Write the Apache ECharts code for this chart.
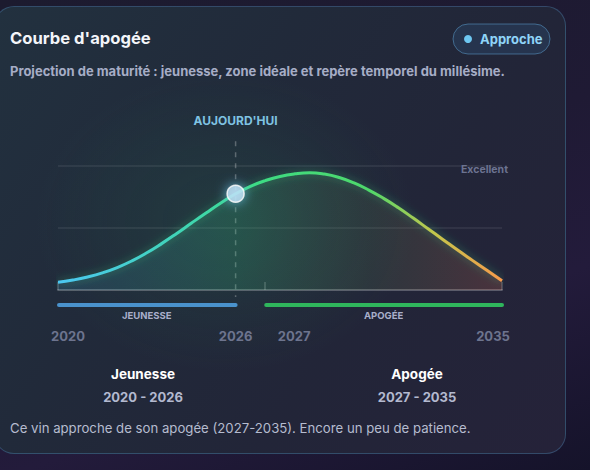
<!DOCTYPE html>
<html>
<head>
<meta charset="utf-8">
<script src="https://cdn.jsdelivr.net/npm/echarts@6/dist/echarts.min.js"></script>
<style>
  html, body { margin:0; padding:0; width:590px; height:470px; overflow:hidden;
    background: linear-gradient(160deg, #1c1b2f 0%, #1f1a34 45%, #231b3b 70%, #15132a 100%); }
  #card { position:absolute; left:-6px; top:6px; width:572px; height:448px; box-sizing:border-box;
    border-radius:20px; border:1px solid rgba(80,135,185,0.38);
    background:
      radial-gradient(ellipse 190px 150px at 230px 215px, rgba(40,150,95,0.16), rgba(40,150,95,0) 100%),
      linear-gradient(125deg, #22313f 0%, #212a3a 35%, #222538 65%, #252239 100%); }
  #chart { position:absolute; left:0; top:0; width:590px; height:470px; }
</style>
</head>
<body>
<div id="card"></div>
<div id="chart"></div>
<script>
// ---- data (every half year) ----
const years = [2020, 2020.5, 2021, 2021.5, 2022, 2022.5, 2023, 2023.5, 2024, 2024.5,
               2025, 2025.5, 2026, 2026.5, 2027, 2027.5, 2028, 2028.5, 2029, 2029.5,
               2030, 2030.5, 2031, 2031.5, 2032, 2032.5, 2033, 2033.5, 2034, 2034.5, 2035];
const quality = [6.2, 8.0, 10.5, 13.8, 18.1, 23.5, 30.0, 37.4, 45.4, 53.8,
                 62.1, 70.2, 77.6, 83.6, 88.2, 91.6, 93.7, 94.6, 93.5, 90.7,
                 86.3, 80.6, 73.9, 66.3, 58.0, 49.4, 40.8, 32.2, 23.9, 15.7, 7.5];
const todayYear = 2026;
const phaseNames = ['Jeunesse', 'Apogée'];
const phaseStart = [2020, 2027];
const phaseEnd = [2026, 2035];
const phaseColors = ['#4a92cc', '#2fb65c'];
const yearTicks = [2020, 2026, 2027, 2035];
const axisTickYears = [2020, 2027, 2035];
const scaleLabel = 'Excellent';
const titleText = "Courbe d'apogée";
const subtitleText = 'Projection de maturité : jeunesse, zone idéale et repère temporel du millésime.';
const badgeText = 'Approche';
const markerText = "AUJOURD'HUI";
const footerText = 'Ce vin approche de son apogée (2027-2035). Encore un peu de patience.';

const FONT = 'Inter, "Noto Sans", sans-serif';
const chart = echarts.init(document.getElementById('chart'), null, { renderer: 'svg' });

const lineData = years.map((y, i) => [y, quality[i]]);
const phaseData = phaseStart.map((s, i) => [s, phaseEnd[i], 0]);
const todayIdx = years.indexOf(todayYear);

const richYear = {
  a: { padding: [0, 0, 0, 20] },
  b: { padding: [0, 0, 0, 58] },
  c: { padding: [0, 18, 0, 0] },
  d: {}
};
function txt(x, y, text, font, fill, align) {
  return { type: 'text', x: x, y: y, style: { text: text, font: font, fill: fill,
    align: align || 'left', textAlign: align || 'left', verticalAlign: 'middle', textVerticalAlign: 'middle' } };
}

const option = {
  animation: false,
  grid: { left: 58, right: 88, top: 166, bottom: 180 },
  xAxis: {
    type: 'value', min: 2020, max: 2035,
    splitLine: { show: false },
    axisLine: { lineStyle: { color: 'rgba(255,255,255,0.2)', width: 2 } },
    axisTick: { customValues: axisTickYears, inside: true, length: 8, lineStyle: { color: 'rgba(255,255,255,0.22)', width: 1.5 } },
    axisLabel: {
      customValues: yearTicks, margin: 39,
      fontFamily: FONT, fontWeight: 'bold', fontSize: 13, color: '#6d748e',
      formatter: function (v) {
        const k = v === 2020 ? 'a' : v === 2027 ? 'b' : v === 2035 ? 'c' : 'd';
        return '{' + k + '|' + v + '}';
      },
      rich: richYear
    }
  },
  yAxis: {
    type: 'value', min: 0, max: 100, interval: 50, position: 'right',
    axisLine: { show: false }, axisTick: { show: false },
    splitLine: { lineStyle: { color: 'rgba(255,255,255,0.09)', width: 1.5 } },
    axisLabel: {
      customValues: [100], inside: true, margin: -6,
      formatter: function () { return '{e|' + scaleLabel + '}'; },
      rich: { e: { fontFamily: FONT, fontWeight: 'bold', fontSize: 10.5, color: '#6c7390', padding: [7, 0, 0, 0] } }
    }
  },
  graphic: [
    txt(10, 38, titleText, 'bold 16.6px ' + FONT, '#f3f5f9'),
    txt(10, 71, subtitleText, 'bold 13px ' + FONT, '#a6adc6'),
    { type: 'rect', shape: { x: 453, y: 24, width: 97, height: 30, r: 15 },
      style: { fill: 'rgba(60,130,190,0.16)', stroke: 'rgba(95,165,215,0.5)', lineWidth: 1 } },
    { type: 'circle', shape: { cx: 468, cy: 39, r: 4 }, style: { fill: '#6ec8f2' } },
    txt(480, 39, badgeText, 'bold 13px ' + FONT, '#8fd4f8'),
    txt(143, 374, phaseNames[0], 'bold 13.5px ' + FONT, '#ffffff', 'center'),
    txt(143, 397, phaseStart[0] + ' - ' + phaseEnd[0], 'bold 13px ' + FONT, '#b3b9cf', 'center'),
    txt(417, 374, phaseNames[1], 'bold 13.5px ' + FONT, '#ffffff', 'center'),
    txt(417, 397, phaseStart[1] + ' - ' + phaseEnd[1], 'bold 13px ' + FONT, '#b3b9cf', 'center'),
    txt(10, 428, footerText, '13.2px ' + FONT, '#b6bccf')
  ],
  series: [
    {
      type: 'line', data: lineData, smooth: 0.5, symbol: 'none', clip: false, z: 3,
      lineStyle: {
        width: 3,
        color: new echarts.graphic.LinearGradient(0, 0, 1, 0, [
          { offset: 0, color: '#4cc8f2' },
          { offset: 0.3, color: '#3fd6b0' },
          { offset: 0.45, color: '#3ddc84' },
          { offset: 0.7, color: '#4fd86a' },
          { offset: 0.85, color: '#c5c64c' },
          { offset: 1, color: '#f79a4c' }
        ]),
        shadowBlur: 8, shadowColor: 'rgba(61,220,132,0.45)'
      },
      areaStyle: {
        color: new echarts.graphic.LinearGradient(0, 0, 1, 0, [
          { offset: 0, color: 'rgba(70,170,230,0.2)' },
          { offset: 0.4, color: 'rgba(55,200,130,0.27)' },
          { offset: 0.7, color: 'rgba(110,150,90,0.2)' },
          { offset: 1, color: 'rgba(235,110,80,0.28)' }
        ])
      },
      markPoint: {
        silent: true, symbol: 'circle', symbolSize: 17,
        itemStyle: { color: 'rgba(195,228,247,0.8)', borderColor: 'rgba(255,255,255,0.8)', borderWidth: 1.5,
          shadowBlur: 12, shadowColor: 'rgba(110,200,245,0.95)' },
        label: { show: false },
        data: [{ coord: [todayYear, quality[todayIdx]] }]
      }
    },
    {
      type: 'custom', data: [[todayYear, 0]], encode: { x: 0, y: 1 }, clip: false, z: 2,
      renderItem: function (params, api) {
        const top = api.coord([api.value(0), 120]);
        const base = api.coord([api.value(0), 0]);
        return {
          type: 'group',
          children: [
            { type: 'line', shape: { x1: base[0], y1: top[1], x2: base[0], y2: base[1] + 7 },
              style: { stroke: 'rgba(255,255,255,0.27)', lineWidth: 1.5, lineDash: [5, 6] } },
            { type: 'text', style: { text: markerText, x: base[0], y: top[1] - 21,
              font: 'bold 12px ' + FONT, fill: '#7fc3e2', align: 'center', verticalAlign: 'middle',
              textAlign: 'center', textVerticalAlign: 'middle' } }
          ]
        };
      }
    },
    {
      type: 'custom', data: phaseData, encode: { x: [0, 1], y: 2 }, clip: false, z: 4,
      renderItem: function (params, api) {
        const p1 = api.coord([api.value(0), 0]);
        const p2 = api.coord([api.value(1), 0]);
        const y = p1[1] + 15;
        const i = params.dataIndex;
        return {
          type: 'group',
          children: [
            { type: 'line', shape: { x1: p1[0] + 1, y1: y, x2: p2[0], y2: y },
              style: { stroke: phaseColors[i], lineWidth: 4, lineCap: 'round' } },
            { type: 'text', style: { text: phaseNames[i].toUpperCase(), x: (p1[0] + p2[0]) / 2, y: y + 10,
              font: 'bold 9.5px ' + FONT, fill: '#a9afca', align: 'center', verticalAlign: 'middle',
              textAlign: 'center', textVerticalAlign: 'middle' } }
          ]
        };
      }
    }
  ]
};
chart.setOption(option);
</script>
</body>
</html>
